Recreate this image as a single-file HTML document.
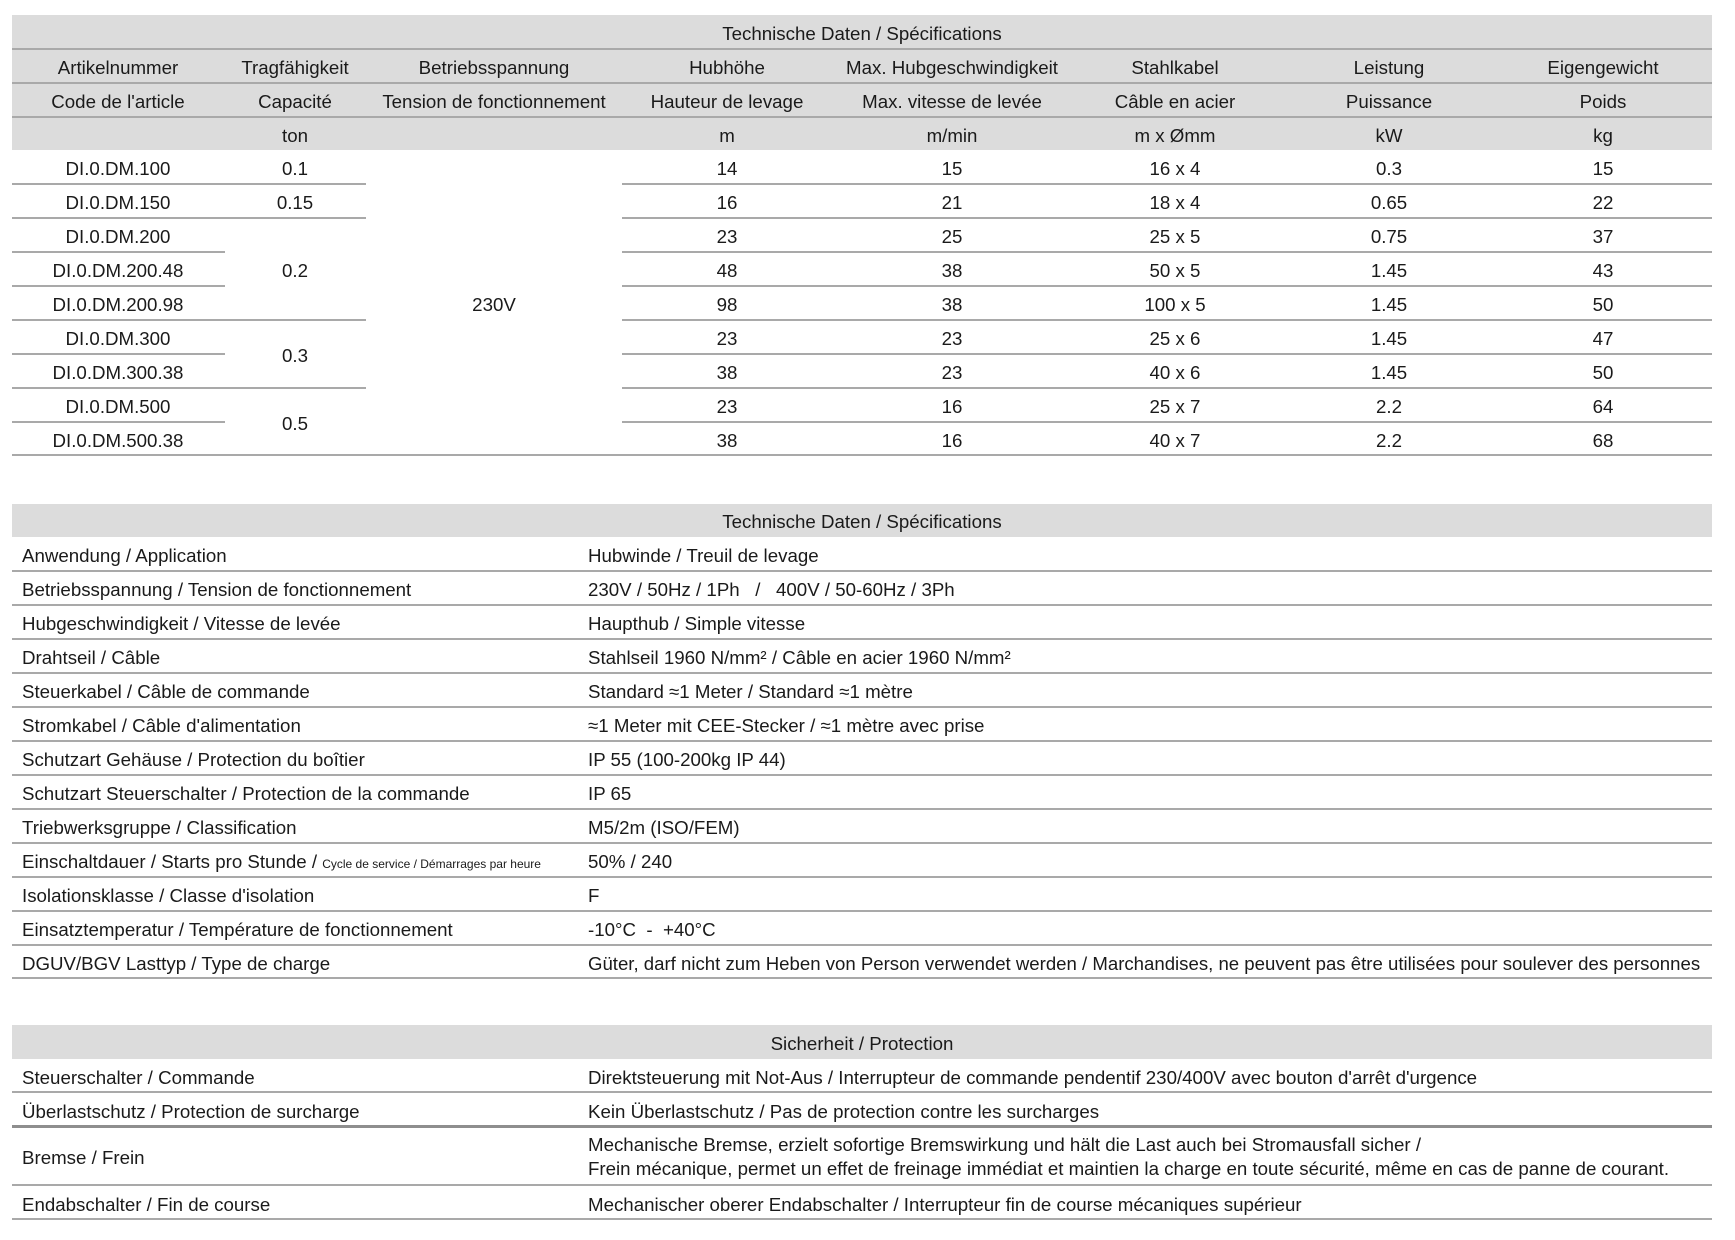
<!DOCTYPE html>
<html><head><meta charset="utf-8">
<style>
html,body{margin:0;padding:0;background:#fff;}
body{width:1735px;height:1240px;position:relative;overflow:hidden;font-family:"Liberation Sans",Arial,sans-serif;color:#1a1a1a;}
.g{position:absolute;background:#dcdcdc;}
.l{position:absolute;height:2px;background:#a9a9a9;}
.t{position:absolute;font-size:18.7px;line-height:34px;height:34px;white-space:nowrap;transform:translateY(2px);}
.c{text-align:center;width:400px;}
</style></head><body>

<!-- TABLE 1 -->
<div class="g" style="left:12px;top:15px;width:1700px;height:135px;"></div>
<div class="l" style="left:12px;top:48px;width:1700px;"></div>
<div class="l" style="left:12px;top:82px;width:1700px;"></div>
<div class="l" style="left:12px;top:116px;width:1700px;"></div>

<div class="t c" style="left:662px;top:15px;">Technische Daten / Spécifications</div>

<div class="t c" style="left:-82px;top:49px;">Artikelnummer</div>
<div class="t c" style="left:95px;top:49px;">Tragfähigkeit</div>
<div class="t c" style="left:294px;top:49px;">Betriebsspannung</div>
<div class="t c" style="left:527px;top:49px;">Hubhöhe</div>
<div class="t c" style="left:752px;top:49px;">Max. Hubgeschwindigkeit</div>
<div class="t c" style="left:975px;top:49px;">Stahlkabel</div>
<div class="t c" style="left:1189px;top:49px;">Leistung</div>
<div class="t c" style="left:1403px;top:49px;">Eigengewicht</div>

<div class="t c" style="left:-82px;top:83px;">Code de l'article</div>
<div class="t c" style="left:95px;top:83px;">Capacité</div>
<div class="t c" style="left:294px;top:83px;">Tension de fonctionnement</div>
<div class="t c" style="left:527px;top:83px;">Hauteur de levage</div>
<div class="t c" style="left:752px;top:83px;">Max. vitesse de levée</div>
<div class="t c" style="left:975px;top:83px;">Câble en acier</div>
<div class="t c" style="left:1189px;top:83px;">Puissance</div>
<div class="t c" style="left:1403px;top:83px;">Poids</div>

<div class="t c" style="left:95px;top:117px;">ton</div>
<div class="t c" style="left:527px;top:117px;">m</div>
<div class="t c" style="left:752px;top:117px;">m/min</div>
<div class="t c" style="left:975px;top:117px;">m x Ømm</div>
<div class="t c" style="left:1189px;top:117px;">kW</div>
<div class="t c" style="left:1403px;top:117px;">kg</div>

<!-- data lines -->
<div class="l" style="left:12px;top:183px;width:354px;"></div>
<div class="l" style="left:12px;top:217px;width:354px;"></div>
<div class="l" style="left:12px;top:251px;width:213px;"></div>
<div class="l" style="left:12px;top:285px;width:213px;"></div>
<div class="l" style="left:12px;top:319px;width:354px;"></div>
<div class="l" style="left:12px;top:353px;width:213px;"></div>
<div class="l" style="left:12px;top:387px;width:354px;"></div>
<div class="l" style="left:12px;top:421px;width:213px;"></div>
<div class="l" style="left:622px;top:183px;width:1090px;"></div>
<div class="l" style="left:622px;top:217px;width:1090px;"></div>
<div class="l" style="left:622px;top:251px;width:1090px;"></div>
<div class="l" style="left:622px;top:285px;width:1090px;"></div>
<div class="l" style="left:622px;top:319px;width:1090px;"></div>
<div class="l" style="left:622px;top:353px;width:1090px;"></div>
<div class="l" style="left:622px;top:387px;width:1090px;"></div>
<div class="l" style="left:622px;top:421px;width:1090px;"></div>
<div class="l" style="left:12px;top:454px;width:1700px;"></div>

<!-- article col -->
<div class="t c" style="left:-82px;top:150px;">DI.0.DM.100</div>
<div class="t c" style="left:-82px;top:184px;">DI.0.DM.150</div>
<div class="t c" style="left:-82px;top:218px;">DI.0.DM.200</div>
<div class="t c" style="left:-82px;top:252px;">DI.0.DM.200.48</div>
<div class="t c" style="left:-82px;top:286px;">DI.0.DM.200.98</div>
<div class="t c" style="left:-82px;top:320px;">DI.0.DM.300</div>
<div class="t c" style="left:-82px;top:354px;">DI.0.DM.300.38</div>
<div class="t c" style="left:-82px;top:388px;">DI.0.DM.500</div>
<div class="t c" style="left:-82px;top:422px;">DI.0.DM.500.38</div>
<!-- capacity -->
<div class="t c" style="left:95px;top:150px;">0.1</div>
<div class="t c" style="left:95px;top:184px;">0.15</div>
<div class="t c" style="left:95px;top:252px;">0.2</div>
<div class="t c" style="left:95px;top:337px;">0.3</div>
<div class="t c" style="left:95px;top:405px;">0.5</div>
<!-- voltage -->
<div class="t c" style="left:294px;top:286px;">230V</div>
<!-- Hubhöhe -->
<div class="t c" style="left:527px;top:150px;">14</div>
<div class="t c" style="left:527px;top:184px;">16</div>
<div class="t c" style="left:527px;top:218px;">23</div>
<div class="t c" style="left:527px;top:252px;">48</div>
<div class="t c" style="left:527px;top:286px;">98</div>
<div class="t c" style="left:527px;top:320px;">23</div>
<div class="t c" style="left:527px;top:354px;">38</div>
<div class="t c" style="left:527px;top:388px;">23</div>
<div class="t c" style="left:527px;top:422px;">38</div>
<!-- speed -->
<div class="t c" style="left:752px;top:150px;">15</div>
<div class="t c" style="left:752px;top:184px;">21</div>
<div class="t c" style="left:752px;top:218px;">25</div>
<div class="t c" style="left:752px;top:252px;">38</div>
<div class="t c" style="left:752px;top:286px;">38</div>
<div class="t c" style="left:752px;top:320px;">23</div>
<div class="t c" style="left:752px;top:354px;">23</div>
<div class="t c" style="left:752px;top:388px;">16</div>
<div class="t c" style="left:752px;top:422px;">16</div>
<!-- cable -->
<div class="t c" style="left:975px;top:150px;">16 x 4</div>
<div class="t c" style="left:975px;top:184px;">18 x 4</div>
<div class="t c" style="left:975px;top:218px;">25 x 5</div>
<div class="t c" style="left:975px;top:252px;">50 x 5</div>
<div class="t c" style="left:975px;top:286px;">100 x 5</div>
<div class="t c" style="left:975px;top:320px;">25 x 6</div>
<div class="t c" style="left:975px;top:354px;">40 x 6</div>
<div class="t c" style="left:975px;top:388px;">25 x 7</div>
<div class="t c" style="left:975px;top:422px;">40 x 7</div>
<!-- power -->
<div class="t c" style="left:1189px;top:150px;">0.3</div>
<div class="t c" style="left:1189px;top:184px;">0.65</div>
<div class="t c" style="left:1189px;top:218px;">0.75</div>
<div class="t c" style="left:1189px;top:252px;">1.45</div>
<div class="t c" style="left:1189px;top:286px;">1.45</div>
<div class="t c" style="left:1189px;top:320px;">1.45</div>
<div class="t c" style="left:1189px;top:354px;">1.45</div>
<div class="t c" style="left:1189px;top:388px;">2.2</div>
<div class="t c" style="left:1189px;top:422px;">2.2</div>
<!-- weight -->
<div class="t c" style="left:1403px;top:150px;">15</div>
<div class="t c" style="left:1403px;top:184px;">22</div>
<div class="t c" style="left:1403px;top:218px;">37</div>
<div class="t c" style="left:1403px;top:252px;">43</div>
<div class="t c" style="left:1403px;top:286px;">50</div>
<div class="t c" style="left:1403px;top:320px;">47</div>
<div class="t c" style="left:1403px;top:354px;">50</div>
<div class="t c" style="left:1403px;top:388px;">64</div>
<div class="t c" style="left:1403px;top:422px;">68</div>

<!-- TABLE 2 -->
<div class="g" style="left:12px;top:504px;width:1700px;height:33px;"></div>
<div class="t c" style="left:662px;top:503px;">Technische Daten / Spécifications</div>

<div class="t" style="left:22px;top:537px;">Anwendung / Application</div>
<div class="t" style="left:588px;top:537px;">Hubwinde / Treuil de levage</div>
<div class="l" style="left:12px;top:570px;width:1700px;"></div>

<div class="t" style="left:22px;top:571px;">Betriebsspannung / Tension de fonctionnement</div>
<div class="t" style="left:588px;top:571px;">230V / 50Hz / 1Ph &nbsp; / &nbsp; 400V / 50-60Hz / 3Ph</div>
<div class="l" style="left:12px;top:604px;width:1700px;"></div>

<div class="t" style="left:22px;top:605px;">Hubgeschwindigkeit / Vitesse de levée</div>
<div class="t" style="left:588px;top:605px;">Haupthub / Simple vitesse</div>
<div class="l" style="left:12px;top:638px;width:1700px;"></div>

<div class="t" style="left:22px;top:639px;">Drahtseil / Câble</div>
<div class="t" style="left:588px;top:639px;">Stahlseil 1960 N/mm² / Câble en acier 1960 N/mm²</div>
<div class="l" style="left:12px;top:672px;width:1700px;"></div>

<div class="t" style="left:22px;top:673px;">Steuerkabel / Câble de commande</div>
<div class="t" style="left:588px;top:673px;">Standard ≈1 Meter / Standard ≈1 mètre</div>
<div class="l" style="left:12px;top:706px;width:1700px;"></div>

<div class="t" style="left:22px;top:707px;">Stromkabel / Câble d'alimentation</div>
<div class="t" style="left:588px;top:707px;">≈1 Meter mit CEE-Stecker / ≈1 mètre avec prise</div>
<div class="l" style="left:12px;top:740px;width:1700px;"></div>

<div class="t" style="left:22px;top:741px;">Schutzart Gehäuse / Protection du boîtier</div>
<div class="t" style="left:588px;top:741px;">IP 55 (100-200kg IP 44)</div>
<div class="l" style="left:12px;top:774px;width:1700px;"></div>

<div class="t" style="left:22px;top:775px;">Schutzart Steuerschalter / Protection de la commande</div>
<div class="t" style="left:588px;top:775px;">IP 65</div>
<div class="l" style="left:12px;top:808px;width:1700px;"></div>

<div class="t" style="left:22px;top:809px;">Triebwerksgruppe / Classification</div>
<div class="t" style="left:588px;top:809px;">M5/2m (ISO/FEM)</div>
<div class="l" style="left:12px;top:842px;width:1700px;"></div>

<div class="t" style="left:22px;top:843px;">Einschaltdauer / Starts pro Stunde / <span style="font-size:12px;">Cycle de service / Démarrages par heure</span></div>
<div class="t" style="left:588px;top:843px;">50% / 240</div>
<div class="l" style="left:12px;top:876px;width:1700px;"></div>

<div class="t" style="left:22px;top:877px;">Isolationsklasse / Classe d'isolation</div>
<div class="t" style="left:588px;top:877px;">F</div>
<div class="l" style="left:12px;top:910px;width:1700px;"></div>

<div class="t" style="left:22px;top:911px;">Einsatztemperatur / Température de fonctionnement</div>
<div class="t" style="left:588px;top:911px;">-10°C &nbsp;- &nbsp;+40°C</div>
<div class="l" style="left:12px;top:944px;width:1700px;"></div>

<div class="t" style="left:22px;top:945px;">DGUV/BGV Lasttyp / Type de charge</div>
<div class="t" style="left:588px;top:945px;font-size:18.6px;">Güter, darf nicht zum Heben von Person verwendet werden / Marchandises, ne peuvent pas être utilisées pour soulever des personnes</div>
<div class="l" style="left:12px;top:977px;width:1700px;"></div>

<!-- TABLE 3 -->
<div class="g" style="left:12px;top:1025px;width:1700px;height:34px;"></div>
<div class="t c" style="left:662px;top:1025px;">Sicherheit / Protection</div>

<div class="t" style="left:22px;top:1059px;">Steuerschalter / Commande</div>
<div class="t" style="left:588px;top:1059px;">Direktsteuerung mit Not-Aus / Interrupteur de commande pendentif 230/400V avec bouton d'arrêt d'urgence</div>
<div class="l" style="left:12px;top:1091px;width:1700px;"></div>

<div class="t" style="left:22px;top:1093px;">Überlastschutz / Protection de surcharge</div>
<div class="t" style="left:588px;top:1093px;">Kein Überlastschutz / Pas de protection contre les surcharges</div>
<div class="l" style="left:12px;top:1125px;width:1700px;height:3px;background:#8e8e8e;"></div>

<div class="t" style="left:22px;top:1139px;">Bremse / Frein</div>
<div class="t" style="left:588px;top:1131px;line-height:24px;height:24px;">Mechanische Bremse, erzielt sofortige Bremswirkung und hält die Last auch bei Stromausfall sicher /</div>
<div class="t" style="left:588px;top:1155px;line-height:24px;height:24px;">Frein mécanique, permet un effet de freinage immédiat et maintien la charge en toute sécurité, même en cas de panne de courant.</div>
<div class="l" style="left:12px;top:1184px;width:1700px;"></div>

<div class="t" style="left:22px;top:1186px;">Endabschalter / Fin de course</div>
<div class="t" style="left:588px;top:1186px;">Mechanischer oberer Endabschalter / Interrupteur fin de course mécaniques supérieur</div>
<div class="l" style="left:12px;top:1218px;width:1700px;"></div>

</body></html>
